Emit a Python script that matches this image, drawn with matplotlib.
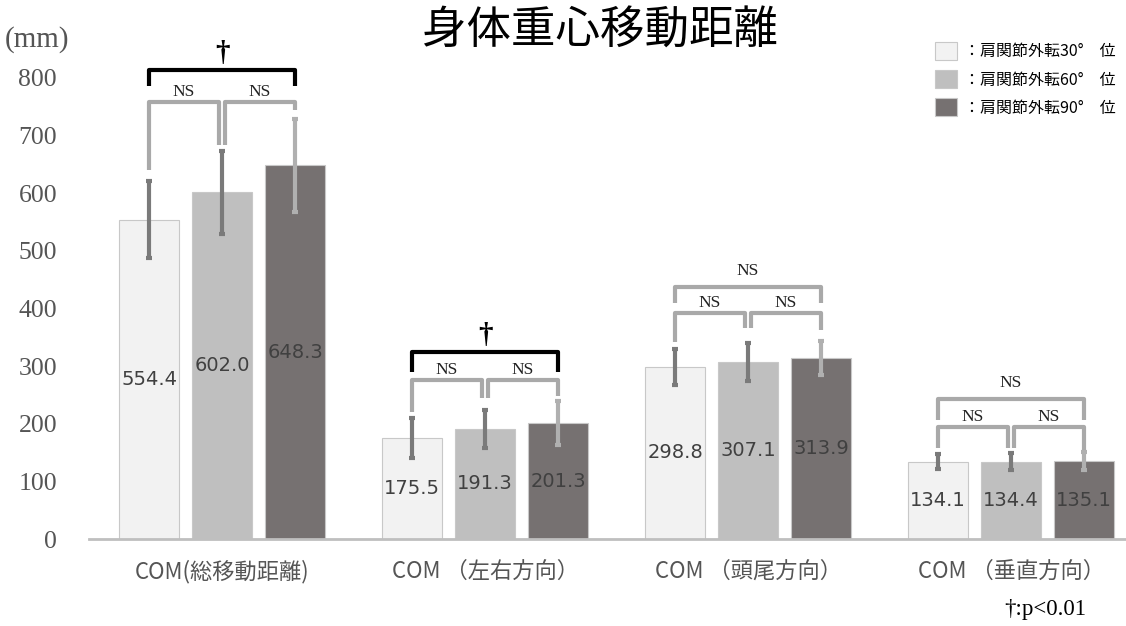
import matplotlib
matplotlib.use("Agg")
import matplotlib.pyplot as plt
import numpy as np

plt.rcParams['font.family'] = ['Noto Sans CJK JP', 'DejaVu Sans']

# --- data -------------------------------------------------------------
categories = ["COM(総移動距離)", "COM （左右方向）", "COM （頭尾方向）", "COM （垂直方向）"]
series_names = ["：肩関節外転30°　位", "：肩関節外転60°　位", "：肩関節外転90°　位"]
abd30 = [554.4, 175.5, 298.8, 134.1]
abd60 = [602.0, 191.3, 307.1, 134.4]
abd90 = [648.3, 201.3, 313.9, 135.1]
sd30 = [67, 35, 31, 13]
sd60 = [72, 33, 33, 15]
sd90 = [80, 38, 29, 16]
y_ticks = [0, 100, 200, 300, 400, 500, 600, 700, 800]

# --- styling ----------------------------------------------------------
bar_colors = ["#f2f2f2", "#bfbfbf", "#767171"]
err_colors = ["#7a7a7a", "#7a7a7a", "#b0b0b0"]
bracket_gray = "#a9a9a9"
serif = ["Liberation Serif", "DejaVu Serif"]

fig = plt.figure(figsize=(11.26, 6.26), dpi=100)
ax = fig.add_axes([89 / 1126, 87 / 626, 1 - 89 / 1126, 461 / 626])

x = np.arange(len(categories))
width = 0.228
step = 0.2776
values = [abd30, abd60, abd90]
sds = [sd30, sd60, sd90]

for k in range(3):
    xs = x + (k - 1) * step
    ax.bar(xs, values[k], width=width, color=bar_colors[k],
           edgecolor="#c8c8c8", linewidth=0.8, label=series_names[k], zorder=2)
    ax.errorbar(xs, values[k], yerr=sds[k], fmt="none", ecolor=err_colors[k],
                elinewidth=3, capsize=2.5, capthick=3, zorder=3)
    for xi, v in zip(xs, values[k]):
        ax.text(xi, v / 2, f"{v:.1f}", ha="center", va="center",
                fontsize=14, color="#404040", family="DejaVu Sans", zorder=4)

ax.set_xlim(-0.506, 3.437)
ax.set_ylim(0, 800)
ax.set_yticks(y_ticks)
ax.set_yticklabels([str(t) for t in y_ticks], family=serif, fontsize=18.5,
                   color="#555555")
ax.set_xticks(x)
ax.set_xticklabels(categories, fontsize=16, color="#555555")
ax.tick_params(axis="y", length=0, pad=23)
ax.tick_params(axis="x", length=0, pad=15)
for s in ["top", "right", "left"]:
    ax.spines[s].set_visible(False)
ax.spines["bottom"].set_color("#bfbfbf")
ax.spines["bottom"].set_linewidth(2)


# --- significance brackets ---------------------------------------------
def bracket(x0, x1, top, b0, b1, color, lw=3):
    ax.plot([x0, x0, x1, x1], [b0, top, top, b1], color=color, lw=lw,
            solid_joinstyle="round", solid_capstyle="butt",
            clip_on=False, zorder=5)


def label(xc, y, s, size=12.5, color="#222222", weight="normal"):
    ax.text(xc, y, s, ha="center", va="center", fontsize=size,
            family=serif, color=color, weight=weight, clip_on=False, zorder=6)


gap = 0.011
# (group, left bar, right bar, top, left leg end, right leg end, colour)
pairs = [
    (0, 0, 1, 758, 641, 684, bracket_gray),
    (0, 1, 2, 758, 684, 745, bracket_gray),
    (1, 0, 1, 276, 220, 245, bracket_gray),
    (1, 1, 2, 276, 245, 248, bracket_gray),
    (2, 0, 1, 392, 342, 366, bracket_gray),
    (2, 1, 2, 392, 366, 363, bracket_gray),
    (3, 0, 1, 194, 158, 158, bracket_gray),
    (3, 1, 2, 194, 158, 155, bracket_gray),
]
for g, i, j, top, b0, b1, col in pairs:
    x0 = g + (i - 1) * step + (gap if i == 1 else 0)
    x1 = g + (j - 1) * step - (gap if j == 1 else 0)
    bracket(x0, x1, top, b0, b1, col)
    label((x0 + x1) / 2, top + 18, "NS")

outer = [
    (0, 814, 786, "black", "†"),
    (1, 325, 290, "black", "†"),
    (2, 437, 410, bracket_gray, "NS"),
    (3, 243, 207, bracket_gray, "NS"),
]
for g, top, b, col, txt in outer:
    x0 = g - step
    x1 = g + step
    bracket(x0, x1, top, b, b, col)
    if txt == "†":
        label(g, top + 28, txt, size=21, color="black", weight="bold")
    else:
        label(g, top + 28, txt)

# --- legend, titles, notes --------------------------------------------
leg = ax.legend(loc="upper left", frameon=False, fontsize=11.5,
                handlelength=1.35, handleheight=1.35, handletextpad=0.45,
                labelspacing=0.62, borderaxespad=0, borderpad=0)
leg.set_bbox_to_anchor((935 / 1126, 1 - 42 / 626), transform=fig.transFigure)

fig.text(600 / 1126, 1 - 31 / 626, "身体重心移動距離", ha="center", va="center",
         fontsize=32, color="black")
fig.text(5 / 1126, 1 - 40 / 626, "(mm)", ha="left", va="center",
         fontsize=21, family=serif, color="#555555")
fig.text(1045 / 1126, 1 - 610 / 626, "†:p<0.01", ha="center", va="center",
         fontsize=16.5, family=serif, color="black")

fig.savefig("out.png", dpi=100)
